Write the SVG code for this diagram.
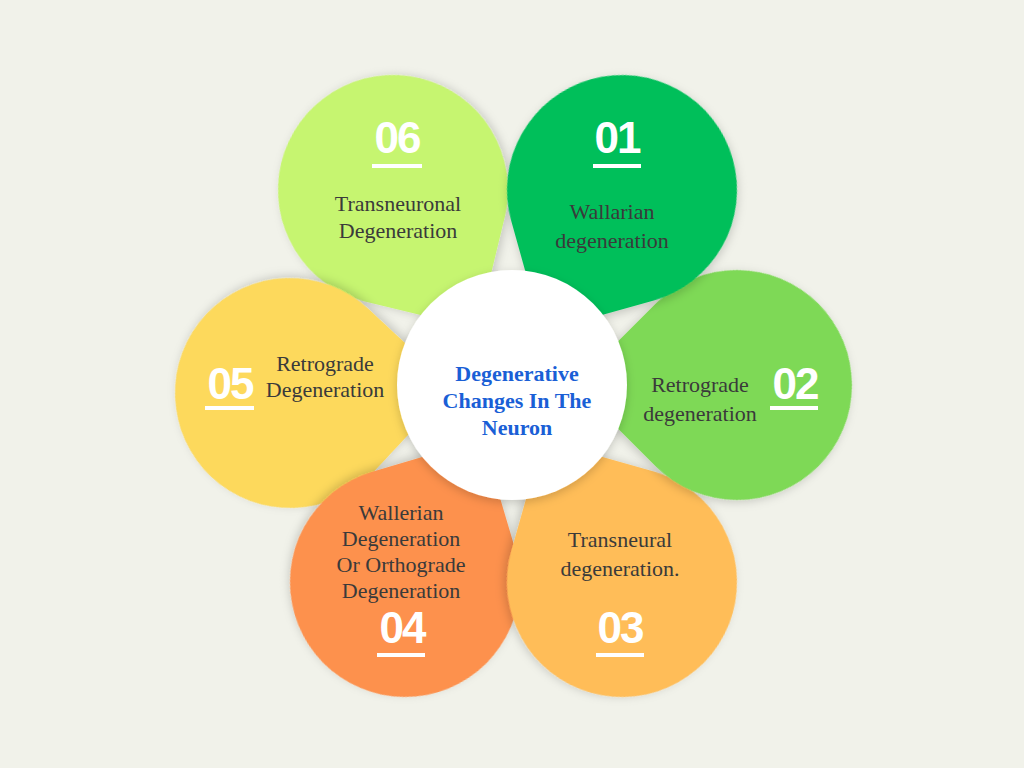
<svg xmlns="http://www.w3.org/2000/svg" width="1024" height="768" viewBox="0 0 1024 768">
<style>
.lbl{font-family:"Liberation Serif",serif;font-size:22px;fill:#3a3a3a;text-anchor:middle}
.num{font-family:"Liberation Sans",sans-serif;font-weight:bold;font-size:44px;fill:#fff;text-anchor:middle;letter-spacing:-2px}
.bar{fill:#fff}
.ctr{font-family:"Liberation Serif",serif;font-weight:bold;font-size:22px;fill:#1a5fd6;text-anchor:middle}
</style>
<defs>
<path id="drop" d="M-115,115 L-115,0 A115,115 0 0 1 0,-115 A115,115 0 0 1 115,0 A115,115 0 0 1 0,115 Z"/>
<filter id="sh" x="-30%" y="-30%" width="160%" height="160%"><feDropShadow dx="0" dy="3" stdDeviation="5" flood-opacity="0.18"/></filter>
</defs>
<rect width="1024" height="768" fill="#f1f2ea"/>
<g id="p06"><use href="#drop" transform="translate(393,190) rotate(-76.4)" fill="#c6f56f" filter="url(#sh)"/></g>
<g id="p05"><use href="#drop" transform="translate(290,393) rotate(-137)" fill="#fdd95c" filter="url(#sh)"/></g>
<g id="p04"><use href="#drop" transform="translate(405,582) rotate(-196.5)" fill="#fd914d" filter="url(#sh)"/></g>
<g id="p03"><use href="#drop" transform="translate(622,582) rotate(105.8)" fill="#ffbd59" filter="url(#sh)"/></g>
<g id="p02"><use href="#drop" transform="translate(737,385) rotate(45)" fill="#7ed957" filter="url(#sh)"/></g>
<g id="p01"><use href="#drop" transform="translate(622,190) rotate(-15.6)" fill="#00bf5a" filter="url(#sh)"/></g>
<g id="center"><circle cx="512" cy="385" r="115" fill="#fff" filter="url(#sh)"/>
<text class="ctr" x="517" y="381">Degenerative</text><text class="ctr" x="517" y="408">Changes In The</text><text class="ctr" x="517" y="435">Neuron</text></g>
<g id="t06"><text class="num" x="397" y="153">06</text><rect class="bar" x="372" y="164" width="50" height="4"/>
<text class="lbl" x="398" y="211">Transneuronal</text><text class="lbl" x="398" y="238">Degeneration</text></g>
<g id="t01"><text class="num" x="617" y="153">01</text><rect class="bar" x="593" y="164" width="48" height="4"/>
<text class="lbl" x="612" y="219">Wallarian</text><text class="lbl" x="612" y="248">degeneration</text></g>
<g id="t02"><text class="num" x="795" y="399">02</text><rect class="bar" x="770" y="406" width="48" height="4"/>
<text class="lbl" x="700" y="392">Retrograde</text><text class="lbl" x="700" y="421">degeneration</text></g>
<g id="t05"><text class="num" x="230" y="399">05</text><rect class="bar" x="205" y="406" width="49" height="4"/>
<text class="lbl" x="325" y="371">Retrograde</text><text class="lbl" x="325" y="397">Degeneration</text></g>
<g id="t04"><text class="num" x="402" y="643">04</text><rect class="bar" x="377" y="653" width="48" height="4"/>
<text class="lbl" x="401" y="520">Wallerian</text><text class="lbl" x="401" y="546">Degeneration</text><text class="lbl" x="401" y="572">Or Orthograde</text><text class="lbl" x="401" y="598">Degeneration</text></g>
<g id="t03"><text class="num" x="620" y="643">03</text><rect class="bar" x="596" y="653" width="48" height="4"/>
<text class="lbl" x="620" y="547">Transneural</text><text class="lbl" x="620" y="576">degeneration.</text></g>
</svg>
